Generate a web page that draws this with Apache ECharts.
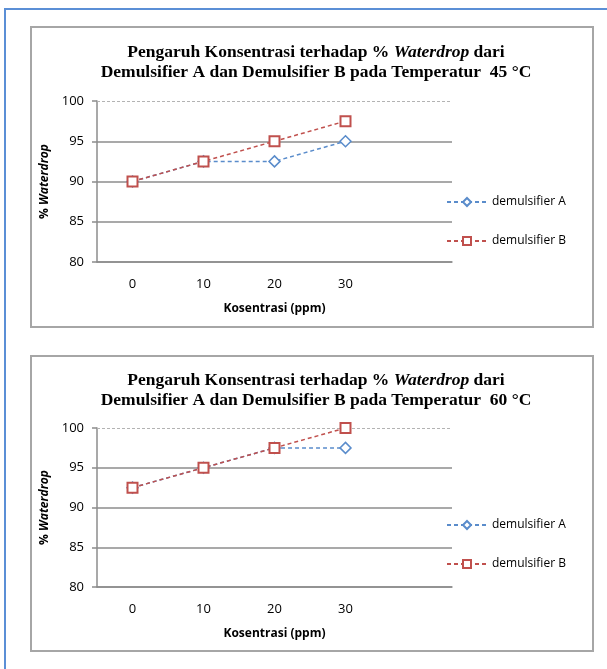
<!DOCTYPE html>
<html>
<head>
<meta charset="utf-8">
<script src="https://cdn.jsdelivr.net/npm/echarts@6/dist/echarts.min.js"></script>
<style>
html, body { margin: 0; padding: 0; background: #fff; }
#chart { width: 607px; height: 669px; }
</style>
</head>
<body>
<div id="chart"></div>
<script>
// data
var konsentrasi = ['0', '10', '20', '30', ''];
var yTicks = [80, 85, 90, 95, 100];
var seriesNames = ['demulsifier A', 'demulsifier B'];
var temp45A = [90, 92.5, 92.5, 95];
var temp45B = [90, 92.5, 95, 97.5];
var temp60A = [92.5, 95, 97.5, 97.5];
var temp60B = [92.5, 95, 97.5, 100];
var temperatures = ['45', '60'];

var blue = '#5a8ccb';
var red = '#c0504d';
var gridGray = '#8c8c8c';
var labelFont = 'Open Sans';

function makeTitle(temp, top) {
	return {
		text: 'Pengaruh Konsentrasi terhadap % {i|Waterdrop} dari\nDemulsifier A dan Demulsifier B pada Temperatur  ' + temp + ' °C',
		left: 311,
		top: top,
		textAlign: 'center',
		textStyle: {
			fontFamily: 'Liberation Serif',
			fontWeight: 'bold',
			fontSize: 17.5,
			lineHeight: 20,
			color: '#000',
			rich: {
				i: { fontFamily: 'Liberation Serif', fontWeight: 'bold', fontStyle: 'italic', fontSize: 17.5, lineHeight: 20, color: '#000' }
			}
		}
	};
}

function makeX(idx) {
	return {
		type: 'category',
		gridIndex: idx,
		data: konsentrasi,
		name: 'Kosentrasi (ppm)',
		nameLocation: 'middle',
		nameGap: 41,
		nameTextStyle: { fontFamily: labelFont, fontWeight: 'bold', fontSize: 12, color: '#000' },
		axisLine: { lineStyle: { color: gridGray, width: 1.5 } },
		axisTick: { show: false },
		axisLabel: { margin: 16, fontFamily: labelFont, fontSize: 13, color: '#000' },
		splitLine: { show: false }
	};
}

function makeY(idx) {
	return {
		type: 'value',
		gridIndex: idx,
		min: yTicks[0],
		max: yTicks[yTicks.length - 1],
		interval: 5,
		name: '% {i|Waterdrop}',
		nameLocation: 'middle',
		nameGap: 40,
		nameTextStyle: {
			fontFamily: labelFont, fontWeight: 'bold', fontSize: 12, color: '#000',
			rich: { i: { fontFamily: labelFont, fontWeight: 'bold', fontStyle: 'italic', fontSize: 12, color: '#000' } }
		},
		axisLine: { show: true, lineStyle: { color: gridGray, width: 1.5 } },
		axisTick: { show: true, length: 5, lineStyle: { color: gridGray, width: 1.5 } },
		axisLabel: { margin: 13, fontFamily: labelFont, fontSize: 13, color: '#000' },
		// top line (100) is drawn dashed by markLine
		splitLine: { show: true, lineStyle: { color: [gridGray, gridGray, gridGray, gridGray, 'rgba(0,0,0,0)'], width: 1.5 } }
	};
}

function makeSeries(name, data, idx, color, symbol, withTop) {
	var s = {
		name: name,
		type: 'line',
		xAxisIndex: idx,
		yAxisIndex: idx,
		data: data,
		symbol: symbol,
		symbolSize: symbol === 'diamond' ? 11 : 10,
		showAllSymbol: true,
		lineStyle: { color: color, width: 1.5, type: [4, 3] },
		itemStyle: { color: '#fff', borderColor: color, borderWidth: symbol === 'diamond' ? 1.5 : 2 },
		emphasis: { disabled: true },
		z: symbol === 'rect' ? 3 : 2
	};
	if (withTop) {
		s.markLine = {
			silent: true,
			symbol: 'none',
			label: { show: false },
			lineStyle: { color: '#b3b3b3', width: 1, type: [3, 2] },
			data: [{ yAxis: yTicks[yTicks.length - 1] }],
			z: 1
		};
	}
	return s;
}

function makeLegend(top) {
	return {
		orient: 'vertical',
		left: 441,
		top: top,
		itemGap: 27,
		itemWidth: 40,
		itemHeight: 10,
		data: seriesNames,
		textStyle: { fontFamily: labelFont, fontSize: 12, color: '#000' }
	};
}

var chart = echarts.init(document.getElementById('chart'));
chart.setOption({
	animation: false,
	backgroundColor: '#fff',
	graphic: [
		{ type: 'rect', shape: { x: 5, y: 9, width: 640, height: 700 }, style: { fill: 'none', stroke: '#5b8fd6', lineWidth: 2 }, silent: true },
		{ type: 'rect', shape: { x: 31, y: 27, width: 562, height: 300 }, style: { fill: 'none', stroke: '#a6a6a6', lineWidth: 2 }, silent: true },
		{ type: 'rect', shape: { x: 31, y: 356, width: 562, height: 295 }, style: { fill: 'none', stroke: '#a6a6a6', lineWidth: 2 }, silent: true }
	],
	title: [makeTitle(temperatures[0], 37), makeTitle(temperatures[1], 365)],
	legend: [makeLegend(191), makeLegend(514)],
	grid: [
		{ left: 97, top: 101, width: 355, height: 161 },
		{ left: 97, top: 428, width: 355, height: 159 }
	],
	xAxis: [makeX(0), makeX(1)],
	yAxis: [makeY(0), makeY(1)],
	series: [
		makeSeries(seriesNames[0], temp45A, 0, blue, 'diamond', true),
		makeSeries(seriesNames[1], temp45B, 0, red, 'rect', false),
		makeSeries(seriesNames[0], temp60A, 1, blue, 'diamond', true),
		makeSeries(seriesNames[1], temp60B, 1, red, 'rect', false)
	]
});
</script>
</body>
</html>
